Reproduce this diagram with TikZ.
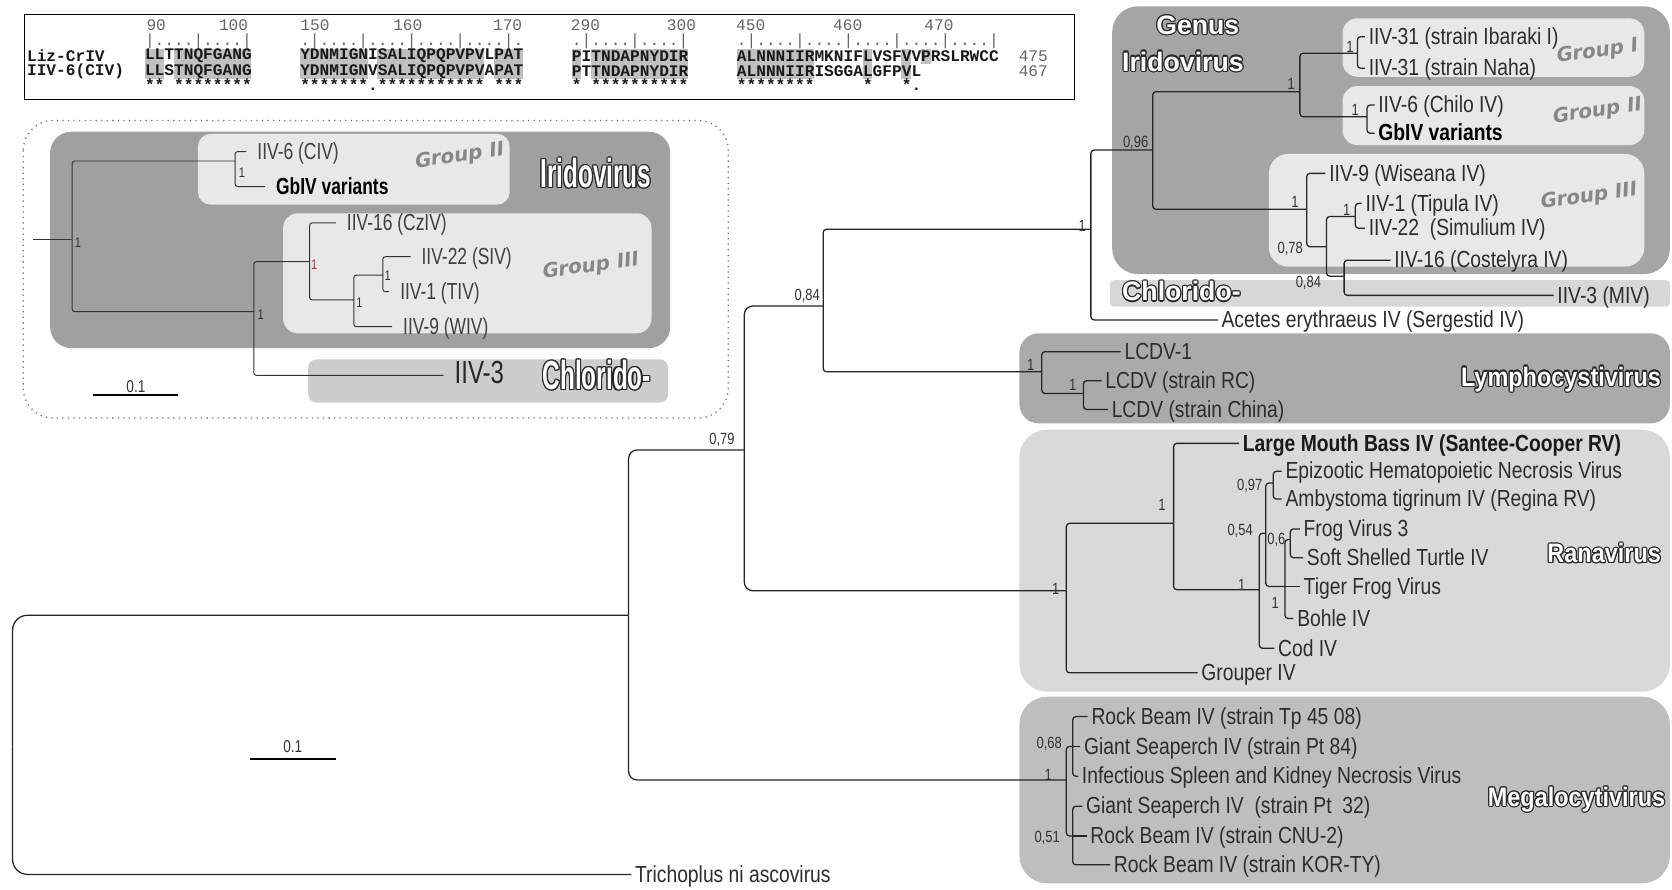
\documentclass[tikz,border=0pt]{standalone}
\usepackage{fontspec}
\setmainfont{Liberation Sans}
\newfontfamily\leaff[FakeStretch=0.83]{Liberation Sans}
\newfontfamily\insf[FakeStretch=0.75]{Liberation Sans}
\newfontfamily\supf[FakeStretch=0.8]{Liberation Sans}
\newfontfamily\ocond[FakeStretch=0.6]{Liberation Sans}
\newfontfamily\omid[FakeStretch=0.88]{Liberation Sans}
\newfontfamily\owide{Liberation Sans}
\newfontfamily\grpf[FakeSlant=0.18]{DejaVu Sans Bold}
\newfontfamily\monof{Liberation Mono}
\newcommand\fLeaf{\leaff\fontsize{10.9}{12}\selectfont}
\newcommand\fIns{\insf\fontsize{10.9}{12}\selectfont}
\newcommand\fInsBig{\insf\fontsize{15}{16}\selectfont}
\newcommand\fSup{\supf\fontsize{7.6}{8}\selectfont}
\newcommand\fSupS{\supf\fontsize{6.5}{7}\selectfont}
\newcommand\fOcond{\ocond\bfseries\fontsize{19}{20}\selectfont}
\newcommand\fOwide{\owide\bfseries\fontsize{12.5}{13}\selectfont}
\newcommand\fOmid{\omid\bfseries\fontsize{12.5}{13}\selectfont}
\newcommand\fGrp{\grpf\fontsize{9.3}{10}\selectfont}
\newcommand\fMono{\monof\fontsize{7.58}{8}\selectfont}
\newcommand\fMonoB{\monof\bfseries\fontsize{7.58}{8}\selectfont}
\newcommand\fScale{\supf\fontsize{8}{9}\selectfont}
\definecolor{leafc}{RGB}{45,45,45}
\definecolor{supc}{RGB}{50,50,50}
\definecolor{olc}{RGB}{40,40,40}
\definecolor{grpc}{RGB}{135,135,135}
\definecolor{darkbox}{RGB}{165,165,165}
\definecolor{panelc}{RGB}{232,232,232}
\definecolor{chlc}{RGB}{215,215,215}
\definecolor{lymc}{RGB}{170,170,170}
\definecolor{ranc}{RGB}{217,217,217}
\definecolor{megc}{RGB}{190,190,190}
\definecolor{idark}{RGB}{160,160,160}
\definecolor{ichl}{RGB}{205,205,205}
\definecolor{shadec}{RGB}{192,192,192}
\definecolor{redc}{RGB}{150,60,60}
\newcommand\olab[5]{%
  \foreach \oa in {0,30,...,330}{%
    \node[olbl, font=#3, text=olc, anchor=#4] (#1-\oa) at ([shift={(\oa:0.55pt)}]#2) {#5};}%
  \node[olbl, font=#3, text=white, anchor=#4] (#1) at (#2) {#5};}
\begin{document}
\begin{tikzpicture}[x=0.5pt,y=-0.5pt,
  br/.style={draw=black!85, line width=0.6pt, rounded corners=1.5pt},
  bigbr/.style={br, rounded corners=4pt},
  rootbr/.style={br, rounded corners=7pt},
  ibr/.style={draw=black!80, line width=0.45pt, rounded corners=1.2pt},
  leaf/.style={anchor=west, inner xsep=1.6pt, inner ysep=0pt, text height=0.72em, text depth=0pt, font=\fLeaf, text=leafc},
  ileaf/.style={leaf, inner xsep=5pt, font=\fIns, text=black!75},
  sup/.style={inner sep=0pt, font=\fSup, text=supc, text height=0.72em, text depth=0pt},
  isup/.style={sup, font=\fSupS},
  olbl/.style={inner sep=0pt, text height=0.72em, text depth=0pt},
  grp/.style={inner sep=0pt, font=\fGrp, text=grpc, rotate=8},
  mono/.style={anchor=west, inner sep=0pt, font=\fMonoB, text=black!90},
  monog/.style={anchor=west, inner sep=0pt, font=\fMono, text=black!60}
]
\useasboundingbox (0,0) rectangle (1568,834);
\fill[white] (0,0) rectangle (1568,834);

% ---------------- alignment box ----------------
\foreach \a/\b in {0/1,3/10,16/22,24/34,36/38,44/44,46/55,61/68,74/74,78/78}
  \fill[shadec] ({135.6+\a*9.1},45.5) rectangle ({135.6+(\b+1)*9.1},74);
\fill[shadec] ({135.6+80*9.1},45.5) rectangle ({135.6+81*9.1},60);
\draw[line width=0.5pt] (23.4,14) rectangle (1008,93);
\node[mono] (lz) at (25,52.5) {Liz-CrIV};
\node[mono] (l6) at (25,67.2) {IIV-6(CIV)};
\node[monog] (n90) at (137,23.4) {90};
\node[monog] (n100) at (205,23.4) {100};
\node[monog] (n150) at (281.4,23.4) {150};
\node[monog] (n160) at (368.4,23.4) {160};
\node[monog] (n170) at (462,23.4) {170};
\node[monog] (n290) at (535,23.4) {290};
\node[monog] (n300) at (625,23.4) {300};
\node[monog] (n450) at (690,23.4) {450};
\node[monog] (n460) at (781,23.4) {460};
\node[monog] (n470) at (866.5,23.4) {470};
\node[monog] (ru1) at (135.6,39) {|....|....|};
\node[monog] (ru2) at (281.2,39) {.|....|....|....|....|.};
\node[monog] (ru3) at (536,39) {.|....|....|};
\node[monog] (ru4) at (690.7,39) {.|....|....|....|....|....|};
\node[mono] (a11) at (135.6,52.5) {LLTTNQFGANG};
\node[mono] (a12) at (281.2,52.5) {YDNMIGNISALIQPQPVPVLPAT};
\node[mono] (a13) at (536,52.5) {PITNDAPNYDIR};
\node[mono] (a14) at (690.7,52.5) {ALNNNIIRMKNIFLVSFVVPRSLRWCC};
\node[mono] (a21) at (135.6,67.2) {LLSTNQFGANG};
\node[mono] (a22) at (281.2,67.2) {YDNMIGNVSALIQPQPVPVAPAT};
\node[mono] (a23) at (536,67.2) {PTTNDAPNYDIR};
\node[mono] (a24) at (690.7,67.2) {ALNNNIIRISGGALGFPVL};
\node[mono] (st1) at (135.6,79.7) {**~********};
\node[mono] (st2) at (281.2,79.7) {*******.***********~***};
\node[mono] (st3) at (536,79.7) {*~**********};
\node[mono] (st4) at (690.7,79.7) {********~~~~~*~~~*.};
\node[monog] (e475) at (955,52.5) {475};
\node[monog] (e467) at (955,67.2) {467};

% ---------------- inset ----------------
\draw[black!55, dotted, line width=0.6pt, rounded corners=14pt] (21.8,113) rectangle (683,392);
\fill[idark, rounded corners=10pt] (47,123.5) rectangle (628.5,326.5);
\fill[panelc, rounded corners=6pt] (185.6,125.5) rectangle (478,192);
\fill[panelc, rounded corners=7pt] (265.5,200) rectangle (611,312.6);
\fill[ichl, rounded corners=4pt] (289,337) rectangle (626.6,377.6);

\coordinate (i0) at (30.5,224.5);
\coordinate (N1) at (67.7,224.5);
\coordinate (N2) at (220.5,151);
\coordinate (N3) at (238,292.3);
\coordinate (N4) at (290.3,245.4);
\coordinate (N5) at (331.8,281.3);
\coordinate (N6) at (359,258);
\node[ileaf] (civ) at (231,142.2) {IIV-6 (CIV)};
\node[ileaf, font=\fIns\bfseries, text=black] (gbiv2) at (248.5,175) {GbIV variants};
\node[ileaf] (czi) at (315,209) {IIV-16 (CzIV)};
\node[ileaf] (siv) at (385,240.7) {IIV-22 (SIV)};
\node[ileaf] (tiv) at (365,273.5) {IIV-1 (TIV)};
\node[ileaf] (wiv) at (367.7,306.4) {IIV-9 (WIV)};
\node[ileaf, font=\fInsBig, text=black!85] (iiv3) at (416,352) {IIV-3};
\draw[ibr] (i0) -- (N1);
\draw[ibr] (N1) |- (N2);
\draw[ibr] (N1) |- (N3);
\draw[ibr] (N2) |- (civ.west);
\draw[ibr] (N2) |- (gbiv2.west);
\draw[ibr] (N3) |- (N4);
\draw[ibr] (N3) |- (iiv3.west);
\draw[ibr] (N4) |- (czi.west);
\draw[ibr] (N4) |- (N5);
\draw[ibr] (N5) |- (N6);
\draw[ibr] (N5) |- (wiv.west);
\draw[ibr] (N6) |- (siv.west);
\draw[ibr] (N6) |- (tiv.west);
\node[isup] (t1) at (73,225) {1};
\node[isup] (t2) at (227,159.4) {1};
\node[isup] (t3) at (244.5,292.3) {1};
\node[isup, text=redc] (t4) at (294.7,245.7) {1};
\node[isup] (t5) at (337,281.4) {1};
\node[isup] (t6) at (363.7,256.3) {1};
\node[grp] (ig2) at (430,147) {Group II};
\node[grp] (ig3) at (553,250) {Group III};
\olab{oIri}{506.5,168.8}{\fOcond}{west}{Iridovirus}
\olab{oChl}{508.6,358}{\fOcond}{west}{Chlorido-}
\coordinate (sb1a) at (87.3,370.4);
\coordinate (sb1b) at (166.8,370.4);
\draw[line width=0.6pt] (sb1a) -- (sb1b);
\node[sup, font=\fScale] (sbt1) at (127.5,361) {0.1};

% ---------------- main tree panels ----------------
\fill[darkbox, rounded corners=12pt] (1043,6) rectangle (1566,257);
\fill[panelc, rounded corners=7pt] (1259,17.2) rectangle (1542,72);
\fill[panelc, rounded corners=7pt] (1259,80.7) rectangle (1542,136);
\fill[panelc, rounded corners=9pt] (1190,144.4) rectangle (1542,250);
\fill[chlc, rounded corners=2pt] (1041,262.6) rectangle (1566,287.6);
\fill[lymc, rounded corners=9pt] (956,312.6) rectangle (1566,397);
\fill[ranc, rounded corners=13pt] (956,403) rectangle (1566,648.7);
\fill[megc, rounded corners=13pt] (956,653.4) rectangle (1566,828.4);

% ---------------- main tree ----------------
\coordinate (r0) at (11.8,700);
\coordinate (A) at (589.5,577);
\coordinate (B) at (698,422);
\coordinate (M) at (1000,731.5);
\coordinate (C) at (772,287);
\coordinate (R1) at (1000,554);
\coordinate (D) at (1023,215);
\coordinate (L1) at (977,348.6);
\coordinate (E) at (1081,140.7);
\coordinate (F) at (1219,86);
\coordinate (G) at (1225.4,196.3);
\coordinate (GI) at (1273,50);
\coordinate (GII) at (1282,109.4);
\coordinate (H) at (1244,231.3);
\coordinate (I) at (1271,203);
\coordinate (J) at (1260.5,259);
\coordinate (L2) at (1016,369);
\coordinate (R2) at (1100.6,490.8);
\coordinate (R3) at (1181,553);
\coordinate (R4) at (1187,500);
\coordinate (EA) at (1194,453);
\coordinate (K) at (1205,550);
\coordinate (FV) at (1210,506);
\coordinate (M1) at (1006,700);
\coordinate (M2) at (1006,784);

\node[leaf] (trich) at (592,820) {Trichoplus ni ascovirus};
\node[leaf] (acetes) at (1142,300) {Acetes erythraeus IV (Sergestid IV)};
\node[leaf] (ibaraki) at (1280,34.4) {IIV-31 (strain Ibaraki I)};
\node[leaf] (naha) at (1280,64) {IIV-31 (strain Naha)};
\node[leaf] (chilo) at (1289,98.5) {IIV-6 (Chilo IV)};
\node[leaf, font=\fLeaf\bfseries, text=black] (gbiv) at (1289,125) {GbIV variants};
\node[leaf] (wis) at (1243,162.6) {IIV-9 (Wiseana IV)};
\node[leaf] (tipula) at (1277,190.7) {IIV-1 (Tipula IV)};
\node[leaf] (simul) at (1280,214) {IIV-22~~(Simulium IV)};
\node[leaf] (cost) at (1304,244) {IIV-16 (Costelyra IV)};
\node[leaf] (miv) at (1457,277) {IIV-3 (MIV)};
\node[leaf] (lcdv1) at (1051,329.8) {LCDV-1};
\node[leaf] (rc) at (1033,357) {LCDV (strain RC)};
\node[leaf] (china) at (1039,384) {LCDV (strain China)};
\node[leaf, font=\fLeaf\bfseries, text=black!90] (lmb) at (1162,415.8) {Large Mouth Bass IV (Santee-Cooper RV)};
\node[leaf] (epi) at (1202,442) {Epizootic Hematopoietic Necrosis Virus};
\node[leaf] (amby) at (1202,468) {Ambystoma tigrinum IV (Regina RV)};
\node[leaf] (fv3) at (1219,496) {Frog Virus 3};
\node[leaf] (sst) at (1222,523) {Soft Shelled Turtle IV};
\node[leaf] (tiger) at (1219,550) {Tiger Frog Virus};
\node[leaf] (bohle) at (1213,580) {Bohle IV};
\node[leaf] (cod) at (1195,608) {Cod IV};
\node[leaf] (grouper) at (1123,631) {Grouper IV};
\node[leaf] (tp) at (1020,672) {Rock Beam IV (strain Tp 45 08)};
\node[leaf] (pt84) at (1013,700) {Giant Seaperch IV (strain Pt 84)};
\node[leaf] (isk) at (1011,728) {Infectious Spleen and Kidney Necrosis Virus};
\node[leaf] (pt32) at (1015,756) {Giant Seaperch IV~~(strain Pt~~32)};
\node[leaf] (cnu) at (1019,784) {Rock Beam IV (strain CNU-2)};
\node[leaf] (kor) at (1041,811) {Rock Beam IV (strain KOR-TY)};

\draw[rootbr] (r0) |- (A);
\draw[rootbr] (r0) |- (trich.west);
\draw[bigbr] (A) |- (B);
\draw[bigbr] (A) |- (M);
\draw[bigbr] (B) |- (C);
\draw[bigbr] (B) |- (R1);
\draw[br] (C) |- (D);
\draw[br] (C) |- (L1);
\draw[br] (D) |- (E);
\draw[br] (D) |- (acetes.west);
\draw[br] (E) |- (F);
\draw[br] (E) |- (G);
\draw[br] (F) |- (GI);
\draw[br] (F) |- (GII);
\draw[br] (GI) |- (ibaraki.west);
\draw[br] (GI) |- (naha.west);
\draw[br] (GII) |- (chilo.west);
\draw[br] (GII) |- (gbiv.west);
\draw[br] (G) |- (wis.west);
\draw[br] (G) |- (H);
\draw[br] (H) |- (I);
\draw[br] (H) |- (J);
\draw[br] (I) |- (tipula.west);
\draw[br] (I) |- (simul.west);
\draw[br] (J) |- (cost.west);
\draw[br] (J) |- (miv.west);
\draw[br] (L1) |- (lcdv1.west);
\draw[br] (L1) |- (L2);
\draw[br] (L2) |- (rc.west);
\draw[br] (L2) |- (china.west);
\draw[br] (R1) |- (R2);
\draw[br] (R1) |- (grouper.west);
\draw[br] (R2) |- (lmb.west);
\draw[br] (R2) |- (R3);
\draw[br] (R3) |- (R4);
\draw[br] (R3) |- (cod.west);
\draw[br] (R4) |- (EA);
\draw[br] (R4) |- (K);
\draw[br] (EA) |- (epi.west);
\draw[br] (EA) |- (amby.west);
\draw[br] (K) |- (FV);
\draw[br] (K) -- (tiger.west);
\draw[br] (K) |- (bohle.west);
\draw[br] (FV) |- (fv3.west);
\draw[br] (FV) |- (sst.west);
\draw[br] (M) |- (M1);
\draw[br] (M) |- (M2);
\draw[br] (M1) |- (tp.west);
\draw[br] (M1) -- (pt84.west);
\draw[br] (M1) |- (isk.west);
\draw[br] (M2) |- (pt32.west);
\draw[br] (M2) -- (cnu.west);
\draw[br] (M2) |- (kor.west);

\node[sup] (s1) at (677,409.5) {0,79};
\node[sup] (s2) at (757,275) {0,84};
\node[sup] (s3) at (1015,210) {1};
\node[sup] (s4) at (1065,131) {0,96};
\node[sup] (s5) at (1211,77) {1};
\node[sup] (s6) at (1266,42) {1};
\node[sup] (s7) at (1271,101) {1};
\node[sup] (s8) at (1214.5,187.6) {1};
\node[sup] (s9) at (1210,231) {0,78};
\node[sup] (s10) at (1263,195) {1};
\node[sup] (s11) at (1227,262.6) {0,84};
\node[sup] (s12) at (966.6,340.6) {1};
\node[sup] (s13) at (1006,359) {1};
\node[sup] (s14) at (990,550) {1};
\node[sup] (s15) at (1089.7,472) {1};
\node[sup] (s16) at (1164.5,547) {1};
\node[sup] (s17) at (1163,495) {0,54};
\node[sup] (s18) at (1172,453) {0,97};
\node[sup] (s19) at (1197,503) {0,6};
\node[sup] (s20) at (1196,563) {1};
\node[sup] (s21) at (984,695) {0,68};
\node[sup] (s22) at (983,725) {1};
\node[sup] (s23) at (982,783) {0,51};

\node[grp] (g1) at (1497,48.5) {Group I};
\node[grp] (g2) at (1497,104.7) {Group II};
\node[grp] (g3) at (1489,184.5) {Group III};
\olab{oGen}{1084,25}{\fOwide}{west}{Genus}
\olab{oIri2}{1052,59.4}{\fOwide}{west}{Iridovirus}
\olab{oChl2}{1052,275}{\fOwide}{west}{Chlorido-}
\olab{oLym}{1558,354.8}{\fOmid}{east}{Lymphocystivirus}
\olab{oRan}{1558,520.5}{\fOmid}{east}{Ranavirus}
\olab{oMeg}{1562,749}{\fOmid}{east}{Megalocytivirus}

\coordinate (sb2a) at (234,711.8);
\coordinate (sb2b) at (315,711.8);
\draw[line width=0.6pt] (sb2a) -- (sb2b);
\node[sup, font=\fScale] (sbt2) at (274.6,698.7) {0.1};
\end{tikzpicture}
\end{document}
